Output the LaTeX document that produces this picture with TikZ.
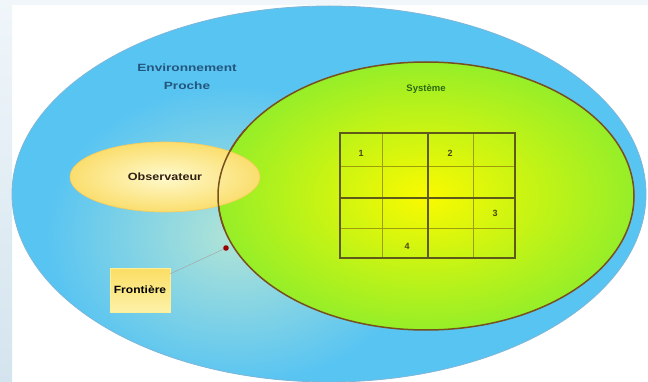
\documentclass[tikz,border=0pt]{standalone}
\usepackage{fontspec}
\setmainfont{Liberation Sans}
\usetikzlibrary{shapes.geometric}
\definecolor{envblue}{RGB}{88,196,242}
\definecolor{envlight}{RGB}{178,228,214}
\definecolor{envedge}{RGB}{70,150,200}
\definecolor{syslime}{RGB}{150,238,40}
\definecolor{sysyellow}{RGB}{250,250,0}
\definecolor{sysedge}{RGB}{120,80,30}
\definecolor{obsin}{RGB}{255,250,205}
\definecolor{obsout}{RGB}{250,222,110}
\definecolor{boxfill}{RGB}{250,232,110}
\definecolor{gridline}{RGB}{95,90,25}
\definecolor{envtext}{RGB}{35,85,125}
\definecolor{systext}{RGB}{45,105,20}
\definecolor{striptop}{RGB}{240,246,250}
\definecolor{stripbot}{RGB}{212,228,238}
\tikzset{
  lbl/.style={font=\fontsize{10.5}{12}\selectfont\bfseries, inner sep=0pt},
  num/.style={font=\fontsize{9}{10}\selectfont\bfseries, text=gridline!80!black, inner sep=0pt},
  thickgrid/.style={draw=gridline, line width=1.6pt},
  thingrid/.style={draw=gridline!60!yellow, line width=0.5pt},
}
\begin{document}
\begin{tikzpicture}[x=1pt,y=-1pt]
\useasboundingbox (0,0) rectangle (648,382);
\fill[white] (0,0) rectangle (648,382);
\shade[top color=striptop, bottom color=stripbot] (0,0) rectangle (12,382);
\fill[striptop] (12,0) rectangle (648,5);
% environment ellipse
\begin{scope}
  \clip (329,194) ellipse [x radius=317, y radius=188];
  \fill[envblue] (0,0) rectangle (648,382);
  \shade[inner color=envlight, outer color=envblue] (235,235) ellipse [x radius=190, y radius=150];
\end{scope}
\draw[envedge!70!white, line width=0.8pt] (329,194) ellipse [x radius=317, y radius=188];
\node[lbl, text=envtext, xscale=1.3] (env1) at (187,68) {Environnement};
\node[lbl, text=envtext, xscale=1.3] (env2) at (187,86) {Proche};
% system ellipse
\shade[inner color=sysyellow, outer color=syslime, draw=sysedge, line width=1.5pt]
  (426,196) ellipse [x radius=208, y radius=134];
\node[lbl, text=systext, font=\fontsize{9.5}{11}\selectfont\bfseries] (sys) at (426,89) {Système};
% grid
\draw[thingrid] (382,133) -- (382,258) (473,133) -- (473,258)
  (340,166) -- (515,166) (340,228) -- (515,228);
\draw[thickgrid] (340,133) rectangle (515,258);
\draw[thickgrid] (428,133) -- (428,258) (340,198) -- (515,198);
\node[num] (n1) at (361,153) {1};
\node[num] (n2) at (450,153) {2};
\node[num] (n3) at (495,213) {3};
\node[num] (n4) at (407,246) {4};
% observer
\node[ellipse, minimum width=190pt, minimum height=70pt, inner color=obsin, outer color=obsout,
  draw=obsout!80!orange, line width=0.6pt] (obs) at (165,177) {};
\node[lbl, text=black!75!brown, xscale=1.2] (obstxt) at (obs.center) {Observateur};
% re-draw system border over observer
\begin{scope}
  \clip (200,130) rectangle (270,230);
  \draw[sysedge, line width=1.5pt] (426,196) ellipse [x radius=208, y radius=134];
\end{scope}
% boundary box
\node[draw=boxfill!70!white, top color=boxfill!90!orange, bottom color=boxfill!60!white,
  minimum width=60pt, minimum height=44pt] (fr) at (140,290) {};
\node[lbl, text=black, xscale=1.15] (frtxt) at (fr.center) {Frontière};
\coordinate (pt) at (226,248);
\draw[black!35, line width=0.5pt] (fr.north east) ++(0,6) -- (pt);
\fill[red!60!black] (pt) circle (2.8);
\end{tikzpicture}
\end{document}
